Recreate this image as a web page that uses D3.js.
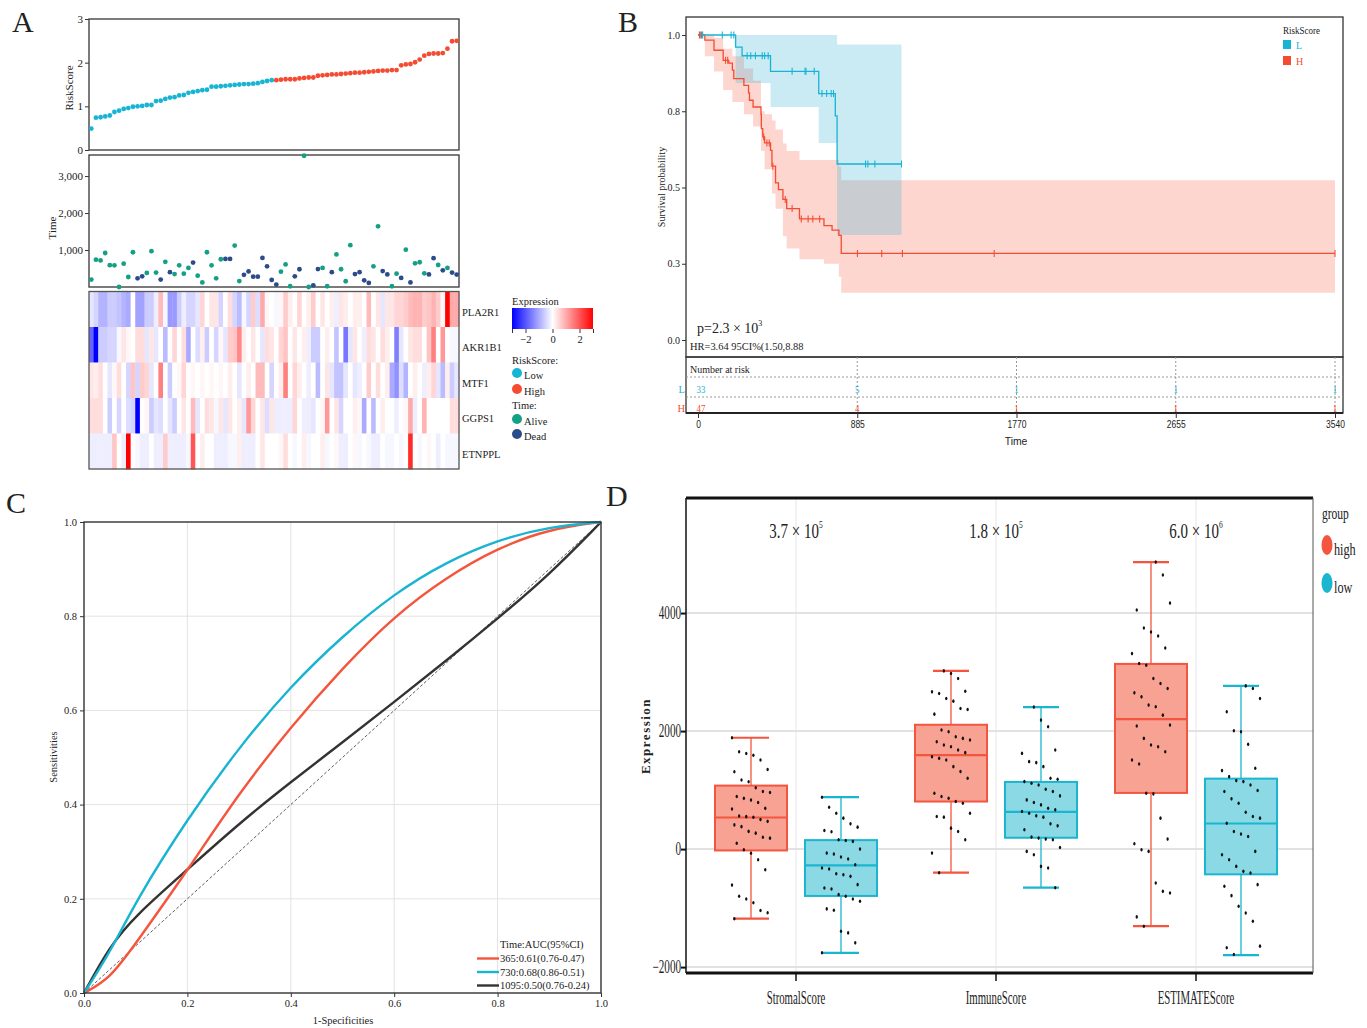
<!DOCTYPE html>
<html lang="en">
<head>
<meta charset="UTF-8">
<title>Risk model figure</title>
<script src="https://cdnjs.cloudflare.com/ajax/libs/d3/7.8.5/d3.min.js"></script>
<style>
  body { margin: 0; background: #fff; }
  svg { display: block; }
</style>
</head>
<body>
<svg id="fig" width="1367" height="1028"></svg>
<script>
// ---------------- data ----------------
// A: risk score (sorted), survival time and status, gene expression
const riskLow = [0.49,0.74,0.75,0.77,0.79,0.87,0.90,0.94,0.96,0.99,1.00,1.01,1.03,1.03,1.12,1.13,1.17,1.20,1.21,1.25,
  1.26,1.31,1.33,1.35,1.37,1.38,1.45,1.45,1.46,1.47,1.48,1.49,1.50,1.51,1.51,1.52,1.53,1.56,1.58,1.60];
const riskHigh = [1.60,1.61,1.62,1.62,1.62,1.64,1.65,1.66,1.66,1.70,1.71,1.72,1.73,1.73,1.74,1.75,1.76,1.77,1.77,1.78,
  1.79,1.80,1.81,1.82,1.82,1.83,1.83,1.94,1.96,1.97,2.01,2.07,2.16,2.20,2.21,2.21,2.22,2.32,2.49,2.50];
const survTime = [200,740,720,920,590,585,0,630,270,940, 235,290,380,970,390,200,680,400,350,585,
  360,515,660,305,125,940,585,235,750,760, 760,1120,160,330,420,280,280,785,560,190,
  65,415,610,20,290,480,3550,0,45,485, 515,20,400,880,480,155,1130,350,400,180,
  110,560,1640,430,340,20,360,245,1010,125, 640,670,370,340,780,595,450,515,390,335];
const survDead = [0,0,0,0,0,0,0,0,0,0, 1,1,0,0,0,1,0,1,0,0, 0,0,1,0,0,0,0,0,0,1, 1,0,0,1,1,1,1,1,1,1,
  1,0,0,0,1,1,0,0,1,1, 0,0,1,0,0,0,0,1,1,1, 1,0,0,1,1,0,0,1,0,1, 0,0,0,1,1,0,1,0,1,1];
const genes = ['PLA2R1', 'AKR1B1', 'MTF1', 'GGPS1', 'ETNPPL'];
const exprPLA2R1 = [-0.3,-0.5,-0.9,-0.9,-0.6,-0.6,-0.7,-0.9,-1.0,0.0, -1.1,-1.1,-0.6,-0.6,-0.2,0.8,-0.1,-1.2,-1.2,-0.6,
  -0.2,-0.5,-0.5,-0.3,0.5,0.0,0.3,0.3,-0.5,0.0, 0.4,-0.5,-0.8,-0.1,-0.5,0.6,-0.4,1.0,0.1,0.0,
  -0.1,0.1,0.6,0.2,0.0,0.5,0.0,0.2,0.6,0.0, 0.3,0.0,0.2,-0.2,0.3,0.2,0.0,0.2,0.2,0.0,
  0.8,0.0,0.3,-0.3,0.3,0.3,0.5,0.5,0.6,0.8, 0.9,0.9,0.6,0.7,0.9,0.6,0.1,3.0,1.0,1.0];
const exprAKR1B1 = [-1.8,-3.0,-0.6,-0.6,-0.5,-0.5,-0.1,0.3,0.1,0.0, 0.4,0.4,-0.3,0.3,-0.3,0.0,-0.8,0.0,0.5,0.0,
  0.4,-1.0,0.0,-0.4,0.2,-0.6,0.0,-0.5,0.1,-0.3, 0.6,0.7,1.4,0.2,0.0,0.3,0.0,-0.3,0.4,0.3,
  0.0,0.5,0.7,0.0,0.3,0.0,0.2,-0.2,-0.6,-0.6, 0.0,0.2,0.0,-0.7,0.0,-1.6,-0.3,0.3,0.0,-0.2,
  0.4,0.3,0.0,0.4,0.2,0.0,-1.5,-0.3,0.0,0.3, 0.4,0.4,0.0,0.7,1.5,0.0,1.2,0.0,-0.1,-0.1];
const exprMTF1 = [0.3,0.2,0.4,0.0,-0.3,0.1,0.4,0.0,-0.5,0.7, -0.5,0.6,0.5,-0.3,0.0,1.5,0.0,-0.6,0.0,0.1,
  0.5,0.0,0.1,0.0,0.1,0.0,0.1,0.0,0.1,0.0, 0.2,0.0,-0.3,0.0,0.2,0.0,0.8,0.8,0.0,-0.5,
  0.0,0.2,1.5,0.0,0.5,0.2,0.0,-0.2,0.0,-0.8, 0.0,0.3,-0.3,-0.7,-0.7,-0.3,0.0,-0.3,-0.2,0.0,
  0.6,0.0,0.4,0.0,0.2,-1.0,-1.3,-0.4,-0.9,0.0, 0.2,0.0,-0.2,0.2,0.5,-0.3,-0.8,0.2,-0.6,-0.3];
const exprGGPS1 = [0.4,0.4,0.4,0.0,-0.6,0.0,-0.5,0.0,-0.4,-0.5, -3.0,0.0,0.1,-0.6,-0.3,-0.4,0.0,-0.3,-0.6,0.0,
  0.3,0.0,0.8,-0.3,0.0,0.4,0.3,-0.1,0.3,-0.3, 0.3,0.0,0.2,-0.3,1.2,0.5,0.0,0.3,-0.4,0.3,
  -0.2,-0.2,-0.2,-0.2,0.5,0.0,-0.2,-0.2,-0.3,0.0, 0.1,1.2,0.0,0.3,-0.5,0.0,0.0,0.2,0.1,-1.0,
  0.0,-0.8,0.0,0.2,0.0,0.0,-0.2,0.0,0.1,1.0, -0.2,0.0,0.9,0.0,0.0,0.0,0.0,0.0,0.4,0.4];
const exprETNPPL = [-0.2,-0.2,-0.2,-0.2,-0.2,0.7,0.0,-0.2,3.0,0.0, -0.1,-0.2,-0.2,0.0,-0.2,-0.2,0.6,-0.2,-0.2,-0.2,
  -0.2,-0.1,2.0,0.0,0.2,0.0,0.0,-0.2,-0.2,-0.2, -0.1,-0.1,0.2,-0.2,-0.2,-0.2,0.0,0.3,0.0,0.0,
  0.0,0.1,0.4,0.0,-0.1,0.0,0.2,-0.1,0.0,0.0, 0.2,-0.1,0.0,0.1,-0.2,-0.2,0.0,0.1,-0.1,0.0,
  -0.1,-0.2,-0.2,0.0,-0.1,-0.1,0.0,-0.1,0.0,2.5, 0.0,-0.1,0.0,0.1,0.0,-0.2,0.0,-0.1,-0.1,-0.1];

// B: Kaplan-Meier
const kmLowTime = [0, 209, 245, 403, 671, 763, 773, 1131];
const kmLowSurv = [1, 0.96, 0.932, 0.881, 0.808, 0.735, 0.577, 0.577];
const kmLowCiTime = [0, 209, 403, 671, 773, 1131];
const kmLowCiLo = [1, 0.843, 0.764, 0.646, 0.344, 0.344];
const kmLowCiHi = [1, 1, 1, 1, 0.969, 0.969];
const kmLowCensor = [13, 26, 135, 184, 199, 273, 293, 319, 357, 370, 390, 523, 595, 600, 646, 689, 715, 740, 753, 931, 944, 983, 1131];
const kmHighTime = [0, 38, 89, 140, 171, 191, 199, 255, 281, 286, 306, 350, 352, 360, 370, 403, 411, 431, 447, 472,
  493, 564, 700, 745, 783, 796, 3540];
const kmHighSurv = [1, 0.983, 0.95, 0.917, 0.908, 0.885, 0.857, 0.835, 0.81, 0.786, 0.764, 0.74, 0.693, 0.666, 0.646,
  0.622, 0.57, 0.515, 0.493, 0.461, 0.431, 0.397, 0.375, 0.36, 0.343, 0.284, 0.284];
const kmHighCiTime = [0, 38, 89, 140, 191, 255, 306, 350, 370, 411, 431, 472, 493, 564, 700, 783, 796, 3540];
const kmHighCiLo = [1, 0.93, 0.88, 0.82, 0.78, 0.74, 0.70, 0.62, 0.56, 0.48, 0.43, 0.34, 0.30, 0.265, 0.25, 0.207, 0.155, 0.155];
const kmHighCiHi = [1, 1, 0.99, 0.955, 0.93, 0.89, 0.85, 0.75, 0.74, 0.72, 0.69, 0.644, 0.62, 0.59, 0.59, 0.568, 0.524, 0.524];
const kmHighCensor = [8, 20, 153, 165, 365, 383, 396, 416, 485, 523, 574, 612, 638, 676, 886, 1021, 1136, 1646, 3540];
const kmTicks = [0, 0.25, 0.5, 0.75, 1];
const kmTickLabels = ['0.0', '0.3', '0.5', '0.8', '1.0'];
const riskTimes = [0, 885, 1770, 2655, 3540];
const riskLowN = [33, 5, 1, 1, 1];
const riskHighN = [47, 4, 1, 1, 1];

// C: time-dependent ROC
const rocFpr = [0, 0.05, 0.1, 0.2, 0.3, 0.4, 0.5, 0.6, 0.7, 0.8, 0.9, 1];
const roc365 = [0, 0.03, 0.105, 0.26, 0.425, 0.565, 0.69, 0.80, 0.882, 0.945, 0.985, 1];
const roc730 = [0, 0.085, 0.195, 0.37, 0.522, 0.652, 0.758, 0.848, 0.915, 0.962, 0.99, 1];
const roc1095 = [0, 0.1, 0.165, 0.262, 0.36, 0.448, 0.532, 0.618, 0.705, 0.795, 0.888, 1];
const rocLegend = ['365:0.61(0.76-0.47)', '730:0.68(0.86-0.51)', '1095:0.50(0.76-0.24)'];

// D: ESTIMATE scores by risk group
const scoreNames = ['StromalScore', 'ImmuneScore', 'ESTIMATEScore'];
const pLabels = ['3.7 × 10', '1.8 × 10', '6.0 × 10'];
const pExps = ['5', '5', '6'];
const highMin = [-1178, -400, -1307], highQ1 = [-23, 806, 952], highMed = [535, 1594, 2203], highQ3 = [1076, 2107, 3138], highMax = [1887, 3020, 4864];
const lowMin = [-1758, -654, -1797], lowQ1 = [-794, 192, -428], lowMed = [-276, 631, 434], lowQ3 = [152, 1138, 1194], lowMax = [879, 2406, 2766];
const stromalHigh = [1887,1650,1620,1590,1510,1350,1310,1170,1140,1040,975,960,890,860,830,790,690,680,560,550,540,500,470,410,380,300,270,200,185,100,-10,-70,-180,-350,-610,-800,-845,-910,-1040,-1080,-1180];
const stromalLow = [879,710,608,524,428,372,315,293,158,146,130,0,-68,-85,-135,-169,-265,-321,-338,-417,-434,-462,-603,-659,-676,-772,-800,-845,-885,-1014,-1037,-1392,-1420,-1589,-1758];
const immuneHigh = [3020,2975,2890,2676,2665,2637,2552,2507,2383,2366,2287,2017,1989,1904,1876,1848,1820,1763,1735,1679,1634,1566,1538,1510,1397,1313,1200,947,890,862,806,777,608,552,541,355,299,158,-68,-400];
const immuneLow = [2406,2186,2073,1679,1622,1482,1465,1397,1200,1183,1144,1115,1087,1014,975,901,834,789,749,693,665,637,608,563,541,428,394,327,203,186,169,158,28,-39,-96,-293,-321,-654];
const estimateHigh = [4864,4644,4169,4051,3746,3678,3610,3407,3313,3144,3116,2890,2806,2721,2648,2580,2440,2411,2270,2101,2085,1876,1763,1735,1650,1510,1442,947,935,524,169,90,-11,-39,-575,-716,-744,-1149,-1307];
const estimateLow = [2766,2721,2552,2327,2006,1989,1775,1369,1330,1228,1161,1144,1087,992,975,851,777,625,552,524,439,299,254,214,-39,-96,-180,-293,-377,-406,-603,-631,-789,-969,-1082,-1223,-1645,-1673,-1786];

// ---------------- drawing ----------------
const svg = d3.select('#fig');
svg.append('rect').attr('width', 1367).attr('height', 1028).attr('fill', '#fff');

const SERIF = '"Liberation Serif","Times New Roman",serif';
const SANS = '"Liberation Sans",Arial,sans-serif';
const LOW = '#17b4d4', HIGH = '#f44c32';

function txt(g, x, y, s, size, o = {}) {
  const t = g.append('text').text(s)
    .attr('font-size', size).attr('font-family', o.family || SERIF)
    .attr('fill', o.fill || '#222').attr('text-anchor', o.anchor || 'start');
  if (o.bold) t.attr('font-weight', 'bold');
  if (o.rotate) t.attr('transform', `translate(${x},${y}) rotate(-90) scale(${o.sx || 1},1)`);
  else t.attr('transform', `translate(${x},${y}) scale(${o.sx || 1},1)`);
  return t;
}
function styleAxis(g, size, family, sx) {
  g.select('.domain').remove();
  g.selectAll('line').attr('stroke', '#333');
  g.selectAll('text').attr('font-family', family || SERIF).attr('font-size', size).attr('fill', '#222');
  if (sx) g.selectAll('text').attr('transform', `scale(${sx},1)`);
}

// panel letters
txt(svg, 12, 32, 'A', 30);
txt(svg, 618, 32, 'B', 30);
txt(svg, 6, 513, 'C', 30);
txt(svg, 606, 506, 'D', 30);

// ===== Panel A =====
const gA = svg.append('g');
const xA = d3.scaleBand().domain(d3.range(80)).range([89, 459]);
const cxA = i => xA(i) + xA.bandwidth() / 2;
const riskScore = riskLow.concat(riskHigh);

const yRisk = d3.scaleLinear().domain([0, 3]).range([150, 19]);
gA.append('g').attr('transform', 'translate(89,0)')
  .call(d3.axisLeft(yRisk).ticks(3).tickSize(4).tickPadding(2))
  .call(g => styleAxis(g, 11));
gA.append('rect').attr('x', 89).attr('y', 19).attr('width', 370).attr('height', 131)
  .attr('fill', 'none').attr('stroke', '#444').attr('stroke-width', 1.4);
gA.selectAll('.rs').data(riskScore).enter().append('circle')
  .attr('cx', (d, i) => cxA(i)).attr('cy', d => yRisk(d)).attr('r', 2.4)
  .attr('fill', (d, i) => i < riskLow.length ? LOW : HIGH);
txt(gA, 73, 88, 'RiskScore', 11, { rotate: true, anchor: 'middle' });

const yTime = d3.scaleLinear().domain([0, 3570]).range([287, 155]);
gA.append('g').attr('transform', 'translate(89,0)')
  .call(d3.axisLeft(yTime).tickValues([1000, 2000, 3000]).tickFormat(d3.format(',')).tickSize(4).tickPadding(2))
  .call(g => styleAxis(g, 11));
gA.append('rect').attr('x', 89).attr('y', 155).attr('width', 370).attr('height', 132)
  .attr('fill', 'none').attr('stroke', '#444').attr('stroke-width', 1.4);
gA.selectAll('.st').data(survTime).enter().append('circle')
  .attr('cx', (d, i) => cxA(i)).attr('cy', d => yTime(d)).attr('r', 2.4)
  .attr('fill', (d, i) => survDead[i] ? '#2b4b8b' : '#13a085');
txt(gA, 56, 228, 'Time', 11, { rotate: true, anchor: 'middle' });

// heatmap
const exprRows = [exprPLA2R1, exprAKR1B1, exprMTF1, exprGGPS1, exprETNPPL];
const yHeat = d3.scaleBand().domain(genes).range([291.5, 469]);
const heatColor = d3.scaleLinear().domain([-3, 0, 3]).range(['#0000ff', '#ffffff', '#ff0000']).clamp(true);
const cells = [];
genes.forEach((g, r) => exprRows[r].forEach((v, i) => cells.push({ g, i, v })));
gA.selectAll('.cell').data(cells).enter().append('rect')
  .attr('x', d => xA(d.i)).attr('y', d => yHeat(d.g))
  .attr('width', xA.bandwidth() + 0.4).attr('height', yHeat.bandwidth() + 0.4)
  .attr('fill', d => heatColor(d.v));
gA.append('rect').attr('x', 89).attr('y', 291.5).attr('width', 370).attr('height', 177.5)
  .attr('fill', 'none').attr('stroke', '#555').attr('stroke-width', 1.3);
genes.forEach(g => txt(gA, 462, yHeat(g) + yHeat.bandwidth() / 2 + 6.5, g, 10.5));

// heatmap legend
const defs = svg.append('defs');
const grad = defs.append('linearGradient').attr('id', 'exprGrad');
d3.range(-3, 3.01, 0.5).forEach(v => grad.append('stop')
  .attr('offset', ((v + 3) / 6 * 100) + '%').attr('stop-color', heatColor(v)));
txt(gA, 512, 305, 'Expression', 10.5);
gA.append('rect').attr('x', 512).attr('y', 308).attr('width', 81).attr('height', 21).attr('fill', 'url(#exprGrad)');
const xLeg = d3.scaleLinear().domain([-3, 3]).range([512, 593]);
gA.append('g').attr('transform', 'translate(0,329)')
  .call(d3.axisBottom(xLeg).tickValues([-3, -2, 0, 2, 3]).tickSize(4).tickPadding(3)
    .tickFormat(d => Math.abs(d) === 3 ? '' : (d < 0 ? '\u2212' + (-d) : d)))
  .call(g => styleAxis(g, 10.5));
txt(gA, 512, 364, 'RiskScore:', 10.5);
const legA = [['Low', LOW, 373], ['High', HIGH, 389], null, ['Alive', '#13a085', 419], ['Dead', '#2b4b8b', 434]];
legA.forEach(d => {
  if (!d) return;
  gA.append('circle').attr('cx', 517).attr('cy', d[2]).attr('r', 5).attr('fill', d[1]);
  txt(gA, 524, d[2] + 6, d[0], 10.5);
});
txt(gA, 512, 409, 'Time:', 10.5);

// ===== Panel B =====
const gB = svg.append('g');
const xKM = d3.scaleLinear().domain([0, 3540]).range([698, 1335]);
const ySurv = d3.scaleLinear().domain([0, 1]).range([340, 35]);

const ciLow = kmLowCiTime.map((t, i) => ({ t, lo: kmLowCiLo[i], hi: kmLowCiHi[i] }));
const ciHigh = kmHighCiTime.map((t, i) => ({ t, lo: kmHighCiLo[i], hi: kmHighCiHi[i] }));
const ciArea = d3.area().curve(d3.curveStepAfter).x(d => xKM(d.t)).y0(d => ySurv(d.lo)).y1(d => ySurv(d.hi));
gB.append('path').datum(ciHigh).attr('d', ciArea).attr('fill', '#f65a45').attr('fill-opacity', 0.25);
gB.append('path').datum(ciLow).attr('d', ciArea).attr('fill', '#2fb0d2').attr('fill-opacity', 0.25);

const stepLine = d3.line().curve(d3.curveStepAfter).x(d => xKM(d.t)).y(d => ySurv(d.s));
const kmLow = kmLowTime.map((t, i) => ({ t, s: kmLowSurv[i] }));
const kmHigh = kmHighTime.map((t, i) => ({ t, s: kmHighSurv[i] }));
gB.append('path').datum(kmHigh).attr('d', stepLine).attr('fill', 'none').attr('stroke', HIGH).attr('stroke-width', 1.3);
gB.append('path').datum(kmLow).attr('d', stepLine).attr('fill', 'none').attr('stroke', LOW).attr('stroke-width', 1.3);
function survAt(curve, t) {
  let s = curve[0].s;
  curve.forEach(d => { if (d.t <= t) s = d.s; });
  return s;
}
[[kmLowCensor, kmLow, LOW], [kmHighCensor, kmHigh, HIGH]].forEach(([cs, curve, col]) => {
  gB.selectAll(null).data(cs).enter().append('line')
    .attr('x1', d => xKM(d)).attr('x2', d => xKM(d))
    .attr('y1', d => ySurv(survAt(curve, d)) - 3.5).attr('y2', d => ySurv(survAt(curve, d)) + 3.5)
    .attr('stroke', col).attr('stroke-width', 1.1);
});

gB.append('g').attr('transform', 'translate(686,0)')
  .call(d3.axisLeft(ySurv).tickValues(kmTicks).tickFormat((d, i) => kmTickLabels[i]).tickSize(4).tickPadding(2))
  .call(g => styleAxis(g, 10));
gB.append('rect').attr('x', 686).attr('y', 17).attr('width', 657).attr('height', 340)
  .attr('fill', 'none').attr('stroke', '#333').attr('stroke-width', 1.3);
txt(gB, 665, 187, 'Survival probability', 10, { rotate: true, anchor: 'middle' });

// legend B
txt(gB, 1283, 34, 'RiskScore', 10, { sx: 0.9 });
gB.append('rect').attr('x', 1283).attr('y', 40).attr('width', 8).attr('height', 9).attr('fill', LOW);
txt(gB, 1296, 49, 'L', 10, { fill: LOW });
gB.append('rect').attr('x', 1283).attr('y', 56).attr('width', 8).attr('height', 9).attr('fill', HIGH);
txt(gB, 1296, 65, 'H', 10, { fill: HIGH });

const pT = txt(gB, 697, 333, 'p=2.3 × 10', 14);
pT.append('tspan').attr('font-size', 8).attr('dy', -7).text('3');
txt(gB, 690, 350, 'HR=3.64  95CI%(1.50,8.88', 11, { sx: 0.95 });

// risk table
gB.append('rect').attr('x', 686).attr('y', 357).attr('width', 657).attr('height', 56)
  .attr('fill', 'none').attr('stroke', '#333').attr('stroke-width', 1.3);
[377, 397].forEach(y => gB.append('line').attr('x1', 686).attr('x2', 1343).attr('y1', y).attr('y2', y)
  .attr('stroke', '#999').attr('stroke-dasharray', '2,2'));
riskTimes.slice(1).forEach(t => gB.append('line').attr('x1', xKM(t)).attr('x2', xKM(t)).attr('y1', 357).attr('y2', 413)
  .attr('stroke', '#999').attr('stroke-dasharray', '2,2'));
txt(gB, 690, 373, 'Number at risk', 10.5, { sx: 0.95 });
txt(gB, 685, 393, 'L', 10.5, { fill: LOW, anchor: 'end' });
txt(gB, 685, 412, 'H', 10.5, { fill: HIGH, anchor: 'end' });
riskTimes.forEach((t, i) => {
  txt(gB, xKM(t) + (i === 0 ? 3 : 0), 393, riskLowN[i], 11, { fill: LOW, anchor: 'middle', sx: 0.8 });
  txt(gB, xKM(t) + (i === 0 ? 3 : 0), 412, riskHighN[i], 11, { fill: HIGH, anchor: 'middle', sx: 0.8 });
});
gB.append('line').attr('x1', 686).attr('x2', 1343).attr('y1', 413).attr('y2', 413).attr('stroke', '#222').attr('stroke-width', 2);
gB.append('g').attr('transform', 'translate(0,413)')
  .call(d3.axisBottom(xKM).tickValues(riskTimes).tickFormat(d3.format('d')).tickSize(5).tickPadding(3))
  .call(g => styleAxis(g, 10, SANS, 0.85));
txt(gB, 1016, 445, 'Time', 11.5, { family: SANS, anchor: 'middle', sx: 0.9 });

// ===== Panel C =====
const gC = svg.append('g');
const xRoc = d3.scaleLinear().domain([0, 1]).range([84, 601]);
const yRoc = d3.scaleLinear().domain([0, 1]).range([993, 522]);
const gridVals = [0.2, 0.4, 0.6, 0.8];
gridVals.forEach(v => {
  gC.append('line').attr('x1', xRoc(v)).attr('x2', xRoc(v)).attr('y1', 522).attr('y2', 993).attr('stroke', '#e3e3e3');
  gC.append('line').attr('y1', yRoc(v)).attr('y2', yRoc(v)).attr('x1', 84).attr('x2', 601).attr('stroke', '#e3e3e3');
});
gC.append('line').attr('x1', xRoc(0)).attr('y1', yRoc(0)).attr('x2', xRoc(1)).attr('y2', yRoc(1))
  .attr('stroke', '#333').attr('stroke-width', 0.8).attr('stroke-dasharray', '3,2');
const rocLine = d3.line().curve(d3.curveBasis).x((d, i) => xRoc(rocFpr[i])).y(d => yRoc(d));
[[roc1095, '#333'], [roc365, '#f4553d'], [roc730, '#18b4d2']].forEach(([s, c]) =>
  gC.append('path').datum(s).attr('d', rocLine).attr('fill', 'none').attr('stroke', c).attr('stroke-width', 2.4));
gC.append('rect').attr('x', 84).attr('y', 522).attr('width', 517).attr('height', 471)
  .attr('fill', 'none').attr('stroke', '#333').attr('stroke-width', 1.4);
gC.append('g').attr('transform', 'translate(84,0)')
  .call(d3.axisLeft(yRoc).tickValues([0, 0.2, 0.4, 0.6, 0.8, 1]).tickFormat(d3.format('.1f')).tickSize(4).tickPadding(3))
  .call(g => styleAxis(g, 10.5));
gC.append('g').attr('transform', 'translate(0,993)')
  .call(d3.axisBottom(xRoc).tickValues([0, 0.2, 0.4, 0.6, 0.8, 1]).tickFormat(d3.format('.1f')).tickSize(4).tickPadding(3))
  .call(g => styleAxis(g, 10.5));
txt(gC, 57, 757, 'Sensitivities', 10.5, { rotate: true, anchor: 'middle' });
txt(gC, 343, 1024, '1-Specificities', 10.5, { anchor: 'middle' });
txt(gC, 500, 948, 'Time:AUC(95%CI)', 10.5);
rocLegend.forEach((s, i) => {
  const y = 962 + i * 13.5;
  gC.append('line').attr('x1', 477).attr('x2', 499).attr('y1', y - 3.5).attr('y2', y - 3.5)
    .attr('stroke', ['#f4553d', '#18b4d2', '#333'][i]).attr('stroke-width', 2.4);
  txt(gC, 500, y, s, 10.5);
});

// ===== Panel D =====
const gD = svg.append('g');
const yD = d3.scaleLinear().domain([-2100, 5950]).range([973, 498]);
const xD = d3.scaleBand().domain(scoreNames).range([696, 1296]);
const xSub = d3.scaleBand().domain(['high', 'low']).range([10, 190]);
scoreNames.forEach(n => gD.append('line').attr('x1', xD(n) + 100).attr('x2', xD(n) + 100).attr('y1', 498).attr('y2', 973)
  .attr('stroke', '#e6e6e6'));
[-2000, 0, 2000, 4000].forEach(v => gD.append('line').attr('x1', 686).attr('x2', 1313).attr('y1', yD(v)).attr('y2', yD(v))
  .attr('stroke', '#e2e2e2').attr('stroke-width', 2));

const groups = [
  { key: 'high', fill: '#f8a293', stroke: '#f4553f', pts: [stromalHigh, immuneHigh, estimateHigh], mn: highMin, q1: highQ1, md: highMed, q3: highQ3, mx: highMax },
  { key: 'low', fill: '#8ad9e4', stroke: '#1ab5cf', pts: [stromalLow, immuneLow, estimateLow], mn: lowMin, q1: lowQ1, md: lowMed, q3: lowQ3, mx: lowMax }
];
const boxW = 72;
groups.forEach(gr => {
  scoreNames.forEach((n, k) => {
    const cx = xD(n) + xSub(gr.key) + xSub.bandwidth() / 2;
    gD.append('line').attr('x1', cx).attr('x2', cx).attr('y1', yD(gr.mn[k])).attr('y2', yD(gr.mx[k]))
      .attr('stroke', gr.stroke).attr('stroke-width', 1.3);
    [gr.mn[k], gr.mx[k]].forEach(v => gD.append('line').attr('x1', cx - 18).attr('x2', cx + 18)
      .attr('y1', yD(v)).attr('y2', yD(v)).attr('stroke', gr.stroke).attr('stroke-width', 2.2));
    gD.append('rect').attr('x', cx - boxW / 2).attr('y', yD(gr.q3[k])).attr('width', boxW)
      .attr('height', yD(gr.q1[k]) - yD(gr.q3[k])).attr('fill', gr.fill).attr('stroke', gr.stroke).attr('stroke-width', 2);
    gD.append('line').attr('x1', cx - boxW / 2).attr('x2', cx + boxW / 2).attr('y1', yD(gr.md[k])).attr('y2', yD(gr.md[k]))
      .attr('stroke', gr.stroke).attr('stroke-width', 2.2);
    gD.selectAll(null).data(gr.pts[k]).enter().append('ellipse')
      .attr('cx', (d, i) => cx + ((((i * 37) + k * 5) % 17) / 16 - 0.5) * 38)
      .attr('cy', d => yD(d)).attr('rx', 1.2).attr('ry', 1.8).attr('fill', '#111');
  });
});

gD.append('line').attr('x1', 686).attr('x2', 1313).attr('y1', 498).attr('y2', 498).attr('stroke', '#111').attr('stroke-width', 3);
gD.append('line').attr('x1', 686).attr('x2', 1313).attr('y1', 973).attr('y2', 973).attr('stroke', '#111').attr('stroke-width', 3);
gD.append('line').attr('x1', 686).attr('x2', 686).attr('y1', 498).attr('y2', 973).attr('stroke', '#111').attr('stroke-width', 1.5);
gD.append('line').attr('x1', 1313).attr('x2', 1313).attr('y1', 498).attr('y2', 973).attr('stroke', '#555').attr('stroke-width', 1);
gD.append('g').attr('transform', 'translate(686,0)')
  .call(d3.axisLeft(yD).tickValues([-2000, 0, 2000, 4000]).tickFormat(d => d < 0 ? '\u2212' + (-d) : d).tickSize(5).tickPadding(3))
  .call(g => { styleAxis(g, 18, SERIF, 0.62); g.selectAll('line').attr('stroke-width', 2).attr('stroke', '#111'); });
gD.append('g').attr('transform', 'translate(0,973)')
  .call(d3.axisBottom(xD).tickSize(8).tickPadding(10))
  .call(g => { styleAxis(g, 18, SERIF, 0.6); g.selectAll('line').attr('stroke-width', 1.5).attr('stroke', '#111'); });
txt(gD, 650, 736, 'Expression', 13, { rotate: true, anchor: 'middle', bold: true }).attr('letter-spacing', 1.5);
scoreNames.forEach((n, k) => {
  const t = txt(gD, xD(n) + 100, 538, pLabels[k], 22, { anchor: 'middle', sx: 0.68 });
  t.append('tspan').attr('font-size', 11).attr('dy', -10).text(pExps[k]);
});
txt(gD, 1322, 519, 'group', 16, { sx: 0.72 });
[['high', '#f4553f', 545], ['low', '#1ab5cf', 583]].forEach(([s, c, y]) => {
  gD.append('ellipse').attr('cx', 1327).attr('cy', y).attr('rx', 5.5).attr('ry', 10).attr('fill', c);
  txt(gD, 1334, y + 10, s, 17, { sx: 0.72 });
});
</script>
</body>
</html>
